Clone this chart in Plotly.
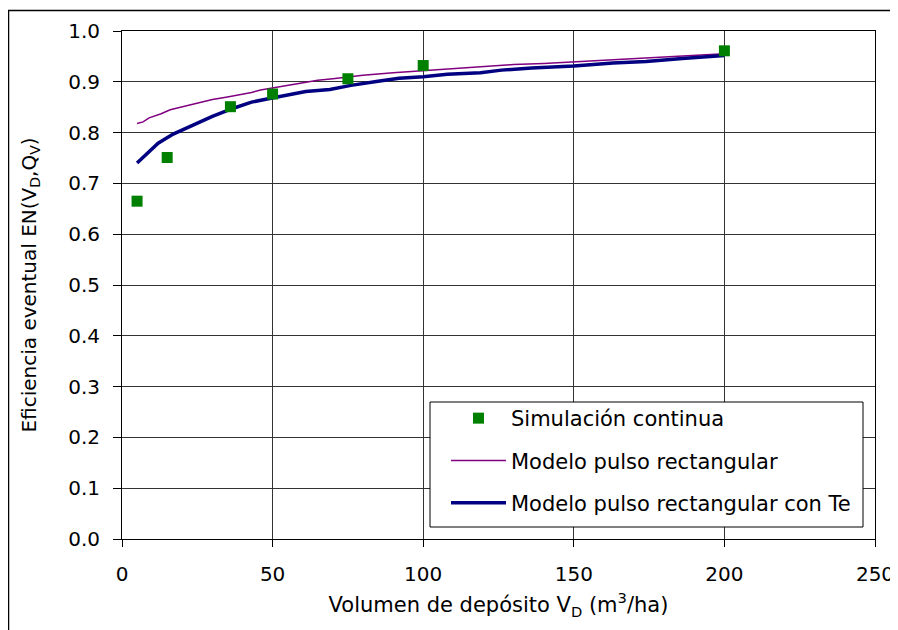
import plotly.graph_objects as go

# ---- data ----
sim_x = [5, 15, 36, 50, 75, 100, 200]
sim_y = [0.665, 0.751, 0.851, 0.876, 0.906, 0.932, 0.961]

rect_x = [5, 7, 9, 11, 13, 16, 20, 25, 30, 35, 40, 43, 46, 50, 55, 60, 65, 70,
          80, 90, 100, 105, 110, 115, 120, 130, 140, 150, 160, 170, 180, 190, 200]
rect_y = [0.818, 0.821, 0.829, 0.833, 0.837, 0.845, 0.851, 0.858, 0.865, 0.870,
          0.875, 0.879, 0.884, 0.888, 0.893, 0.899, 0.903, 0.906, 0.913, 0.918,
          0.922, 0.924, 0.927, 0.929, 0.931, 0.934, 0.936, 0.939, 0.942, 0.946,
          0.949, 0.952, 0.955]

te_x = [5, 8, 12, 17, 24, 30, 37, 43, 49, 55, 61, 69, 76, 85, 92, 100, 104, 108,
        119, 126, 136, 150, 163, 174, 186, 192, 200]
te_y = [0.740, 0.756, 0.779, 0.797, 0.815, 0.832, 0.848, 0.860, 0.867, 0.874,
        0.881, 0.885, 0.893, 0.901, 0.907, 0.910, 0.913, 0.915, 0.918, 0.923,
        0.927, 0.931, 0.937, 0.940, 0.946, 0.949, 0.952]

x_ticks = [0, 50, 100, 150, 200, 250]
y_ticks = [0.0, 0.1, 0.2, 0.3, 0.4, 0.5, 0.6, 0.7, 0.8, 0.9, 1.0]

names = ["Simulación continua", "Modelo pulso rectangular",
         "Modelo pulso rectangular con Te"]

FONT = "DejaVu Sans, Liberation Sans, Arial, sans-serif"
OFF = 8                      # page body margin
W, H = 898 - OFF, 630 - OFF
# plot area in screenshot coordinates
SL, SR, ST, SB = 122, 875, 31, 539
L, R, T, B = SL - OFF, SR - OFF, ST - OFF, SB - OFF


def px_x(p):  # screenshot x -> paper x
    return (p - SL) / (SR - SL)


def px_y(p):  # screenshot y -> paper y
    return (SB - p) / (SB - ST)


fig = go.Figure()
fig.add_trace(go.Scatter(x=rect_x, y=rect_y, mode="lines", name=names[1],
                         line=dict(color="#800080", width=1.5),
                         legendgroup="b", legendrank=2))
fig.add_trace(go.Scatter(x=te_x, y=te_y, mode="lines", name=names[2],
                         line=dict(color="#000080", width=3.5),
                         legendgroup="c", legendrank=3))
fig.add_trace(go.Scatter(x=sim_x, y=sim_y, mode="markers", name=names[0],
                         marker=dict(symbol="square", size=11, color="#008000"),
                         legendgroup="a", legendrank=1))

shapes = [
    # outer chart border
    dict(type="rect", xref="paper", yref="paper",
         x0=px_x(8.5), x1=px_x(894.5), y0=px_y(660), y1=px_y(10.5),
         line=dict(color="black", width=1.5), fillcolor="rgba(0,0,0,0)",
         layer="below"),
    # legend box
    dict(type="rect", xref="paper", yref="paper",
         x0=px_x(430), x1=px_x(863), y0=px_y(527), y1=px_y(402),
         line=dict(color="black", width=1), fillcolor="white", layer="above"),
]

fig.update_layout(
    width=W, height=H,
    margin=dict(l=L, r=W - R, t=T, b=H - B, pad=0),
    paper_bgcolor="white", plot_bgcolor="white",
    font=dict(family=FONT, size=20, color="black"),
    showlegend=True,
    legend=dict(x=px_x(446), y=px_y(398), xanchor="left", yanchor="top",
                bgcolor="rgba(0,0,0,0)", borderwidth=0,
                font=dict(family=FONT, size=21, color="black"),
                tracegroupgap=12, itemwidth=55,
                traceorder="grouped"),
    shapes=shapes,
    xaxis=dict(range=[0, 250], tickvals=x_ticks, ticktext=[str(v) for v in x_ticks],
               showgrid=True, gridcolor="#333333", gridwidth=1,
               showline=True, linecolor="black", linewidth=1, mirror=True,
               ticks="outside", ticklen=7, tickcolor="black",
               ticklabelstandoff=10, zeroline=False,
               tickfont=dict(size=20),
               title=dict(text="Volumen de depósito V<sub>D</sub> (m<sup>3</sup>/ha)",
                          standoff=12, font=dict(size=21)),
               automargin=False, fixedrange=True),
    yaxis=dict(range=[0, 1], tickvals=y_ticks, ticktext=[f"{v:.1f}" for v in y_ticks],
               showgrid=True, gridcolor="#333333", gridwidth=1,
               showline=True, linecolor="black", linewidth=1, mirror=True,
               ticks="outside", ticklen=8, tickcolor="black",
               ticklabelstandoff=9, zeroline=False,
               tickfont=dict(size=20),
               title=dict(text="Eficiencia eventual EN(V<sub>D</sub>,Q<sub>V</sub>)",
                          standoff=26, font=dict(size=20)),
               automargin=False, fixedrange=True),
)

fig.write_html("out.html")
